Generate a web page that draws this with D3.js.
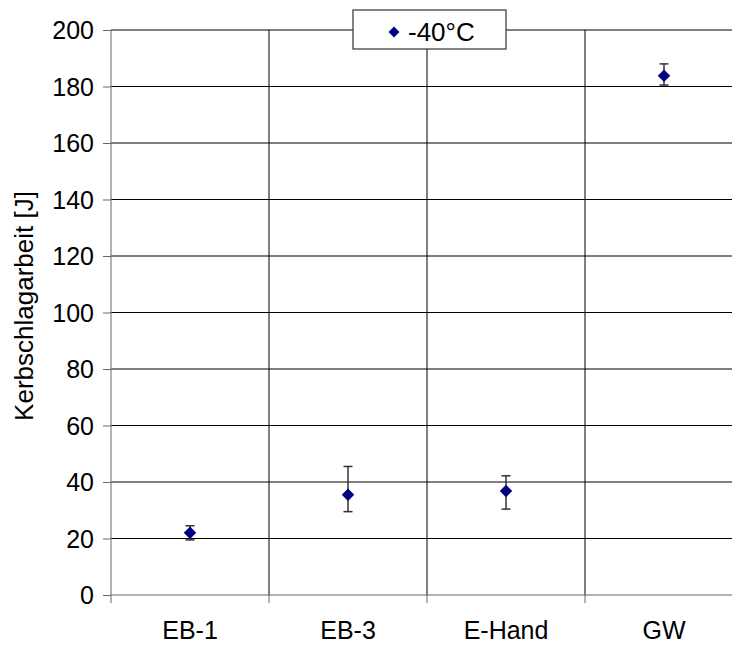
<!DOCTYPE html>
<html>
<head>
<meta charset="utf-8">
<script src="https://cdn.jsdelivr.net/npm/d3@7"></script>
<style>
  body { margin: 0; background: #fff; }
  text { font-family: 'Liberation Sans', Arial, sans-serif; fill: #000; }
</style>
</head>
<body>
<svg id="chart" width="732" height="645"></svg>
<script>
// Daten
const categories = ['EB-1', 'EB-3', 'E-Hand', 'GW'];
const meanValues = [22, 35.5, 36.8, 183.8];
const lowValues = [19.5, 29.5, 30.4, 180.5];
const highValues = [24.5, 45.5, 42.2, 188];
const yTicks = [0, 20, 40, 60, 80, 100, 120, 140, 160, 180, 200];
const seriesName = '-40°C';

const svg = d3.select('#chart');
const plotLeft = 111, plotRight = 743, plotTop = 30, plotBottom = 595;

const x = d3.scaleBand().domain(categories).range([plotLeft, plotRight]);
const y = d3.scaleLinear().domain([0, 200]).range([plotBottom, plotTop]);

// Gitterlinien horizontal
svg.append('g')
    .selectAll('line')
    .data(yTicks.filter(d => d > 0))
    .enter()
    .append('line')
    .attr('x1', plotLeft)
    .attr('x2', plotRight)
    .attr('y1', d => y(d))
    .attr('y2', d => y(d))
    .attr('stroke', '#000')
    .attr('stroke-width', 1);

// vertikale Gitterlinien zwischen Kategorien
svg.append('g')
    .selectAll('line')
    .data(categories.slice(1))
    .enter()
    .append('line')
    .attr('x1', d => x(d))
    .attr('x2', d => x(d))
    .attr('y1', plotTop)
    .attr('y2', plotBottom)
    .attr('stroke', '#000')
    .attr('stroke-width', 1);

// Y-Achse
const yAxis = svg.append('g')
    .attr('transform', `translate(${plotLeft},0)`)
    .call(d3.axisLeft(y).tickValues(yTicks).tickSize(8).tickPadding(9));
yAxis.select('.domain').attr('stroke', '#666').attr('d', `M0,${plotTop}V${plotBottom}`);
yAxis.selectAll('.tick line').attr('stroke', '#666');
yAxis.selectAll('.tick text').style('font-size', '25px').attr('dy', '0.35em');

// X-Achse
const xAxis = svg.append('g')
    .attr('transform', `translate(0,${plotBottom})`)
    .call(d3.axisBottom(x).tickSize(0).tickPadding(26));
xAxis.select('.domain').attr('stroke', '#666').attr('d', `M${plotLeft},0H${plotRight}`);
xAxis.selectAll('.tick text').style('font-size', '25px');
xAxis.append('g')
    .selectAll('line')
    .data(categories)
    .enter()
    .append('line')
    .attr('x1', d => x(d))
    .attr('x2', d => x(d))
    .attr('y1', 0)
    .attr('y2', 8)
    .attr('stroke', '#666');

// Achsentitel
svg.append('text')
    .attr('transform', 'translate(33,306) rotate(-90)')
    .attr('text-anchor', 'middle')
    .style('font-size', '26px')
    .text('Kerbschlagarbeit [J]');

// Fehlerbalken
const errG = svg.append('g');
categories.forEach((c, i) => {
    const cx = x(c) + x.bandwidth() / 2;
    errG.append('line')
        .attr('x1', cx).attr('x2', cx)
        .attr('y1', y(lowValues[i])).attr('y2', y(highValues[i]))
        .attr('stroke', '#333').attr('stroke-width', 1.5);
    [lowValues[i], highValues[i]].forEach(v => {
        errG.append('line')
            .attr('x1', cx - 4.5).attr('x2', cx + 4.5)
            .attr('y1', y(v)).attr('y2', y(v))
            .attr('stroke', '#333').attr('stroke-width', 1.5);
    });
});

// Rauten (um 45° gedrehte Quadrate)
const diamond = d3.symbol().type(d3.symbolSquare).size(78);
svg.append('g')
    .selectAll('path')
    .data(meanValues)
    .enter()
    .append('path')
    .attr('d', diamond)
    .attr('transform', (d, i) => `translate(${x(categories[i]) + x.bandwidth() / 2},${y(d)}) rotate(45)`)
    .attr('fill', '#000080');

// Legende
const legendG = svg.append('g').attr('transform', 'translate(353,10)');
legendG.append('rect')
    .attr('width', 153)
    .attr('height', 39)
    .attr('fill', '#fff')
    .attr('stroke', '#333')
    .attr('stroke-width', 1.2);
legendG.append('path')
    .attr('d', d3.symbol().type(d3.symbolSquare).size(60))
    .attr('transform', 'translate(41,22) rotate(45)')
    .attr('fill', '#000080');
legendG.append('text')
    .attr('x', 55)
    .attr('y', 31)
    .style('font-size', '26px')
    .text(seriesName);
</script>
</body>
</html>
